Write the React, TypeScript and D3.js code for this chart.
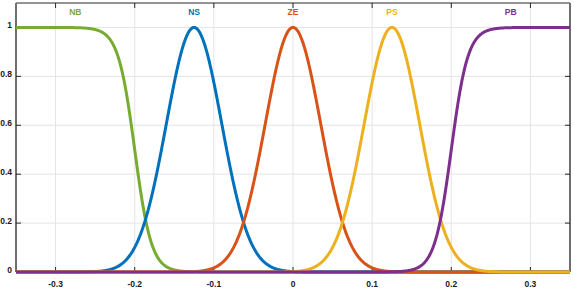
import React from "react";
import * as d3 from "d3";

const W = 574;
const H = 289;

const mfNames = ["NB", "NS", "ZE", "PS", "PB"];
const mfKinds = ["sigL", "gauss", "gauss", "gauss", "sigR"];
const mfCenters = [-0.2, -0.125, 0, 0.125, 0.2];
const mfWidths = [95, 0.035, 0.035, 0.035, 95];
const mfColors = ["#77AC30", "#0072BD", "#D95319", "#EDB120", "#7E2F8E"];
const labelX = [-0.275, -0.125, 0, 0.125, 0.275];
const labelY = 1.06;

const xTicks = [-0.3, -0.2, -0.1, 0, 0.1, 0.2, 0.3];
const xTickLabels = ["-0.3", "-0.2", "-0.1", "0", "0.1", "0.2", "0.3"];
const yTicks = [0, 0.2, 0.4, 0.6, 0.8, 1];
const yTickLabels = ["0", "0.2", "0.4", "0.6", "0.8", "1"];

const xDomain: [number, number] = [-0.35, 0.35];
const yDomain: [number, number] = [0, 1.1];

function mf(kind: string, c: number, s: number, x: number): number {
  if (kind === "sigL") return 1 / (1 + Math.exp(s * (x - c)));
  if (kind === "sigR") return 1 / (1 + Math.exp(-s * (x - c)));
  return Math.exp(-((x - c) * (x - c)) / (2 * s * s));
}

export default function App() {
  const left = 16, right = 570, top = 3, bottom = 272;
  const x = d3.scaleLinear().domain(xDomain).range([left, right]);
  const y = d3.scaleLinear().domain(yDomain).range([bottom, top]);
  const xs = d3.range(0, 1401).map((i) => xDomain[0] + (i / 1400) * (xDomain[1] - xDomain[0]));
  const line = d3
    .line<[number, number]>()
    .x((d) => x(d[0]))
    .y((d) => y(d[1]));
  const font = "'Liberation Sans', Arial, sans-serif";
  return (
    <svg
      width={W}
      height={H}
      style={{ position: "absolute", left: 0, top: 0, background: "#fff" }}
      fontFamily={font}
    >
      <rect x={0} y={0} width={W} height={H} fill="#fff" />
      {/* grid */}
      {xTicks.map((t, i) => (
        <line key={"gx" + i} x1={x(t)} x2={x(t)} y1={top} y2={bottom} stroke="#e4e4e4" strokeWidth={1} />
      ))}
      {yTicks.map((t, i) => (
        <line key={"gy" + i} x1={left} x2={right} y1={y(t)} y2={y(t)} stroke="#e4e4e4" strokeWidth={1} />
      ))}
      {/* frame */}
      <line x1={left} x2={right} y1={top} y2={top} stroke="#262626" strokeWidth={1} />
      <line x1={left} x2={left} y1={top} y2={bottom} stroke="#6e6e6e" strokeWidth={2} />
      <line x1={right} x2={right} y1={top} y2={bottom} stroke="#6e6e6e" strokeWidth={2} />
      {/* ticks */}
      {xTicks.map((t, i) => (
        <g key={"tx" + i}>
          <line x1={x(t)} x2={x(t)} y1={top} y2={top + 5} stroke="#262626" strokeWidth={1} />
          <line x1={x(t)} x2={x(t)} y1={bottom} y2={bottom - 5} stroke="#262626" strokeWidth={1} />
        </g>
      ))}
      {yTicks.map((t, i) => (
        <g key={"ty" + i}>
          <line x1={left} x2={left + 5} y1={y(t)} y2={y(t)} stroke="#262626" strokeWidth={1} />
          <line x1={right} x2={right - 5} y1={y(t)} y2={y(t)} stroke="#262626" strokeWidth={1} />
        </g>
      ))}
      {/* curves */}
      {mfNames.map((n, i) => (
        <path
          key={n}
          d={line(xs.map((v) => [v, mf(mfKinds[i], mfCenters[i], mfWidths[i], v)] as [number, number])) || ""}
          fill="none"
          stroke={mfColors[i]}
          strokeWidth={3}
          strokeLinejoin="round"
        />
      ))}
      {/* mf labels */}
      {mfNames.map((n, i) => (
        <text
          key={"l" + n}
          x={x(labelX[i])}
          y={y(labelY)}
          fill={mfColors[i]}
          fontSize={8.5}
          fontWeight="bold"
          textAnchor="middle"
          dominantBaseline="middle"
        >
          {n}
        </text>
      ))}
      {/* tick labels */}
      {xTicks.map((t, i) => (
        <text key={"xl" + i} x={x(t)} y={287} fontSize={8.5} fontWeight="bold" textAnchor="middle" fill="#1a1a1a">
          {xTickLabels[i]}
        </text>
      ))}
      {yTicks.map((t, i) => (
        <text key={"yl" + i} x={12} y={y(t) + 0.5} fontSize={8.5} fontWeight="bold" textAnchor="end" fill="#1a1a1a">
          {yTickLabels[i]}
        </text>
      ))}
    </svg>
  );
}
